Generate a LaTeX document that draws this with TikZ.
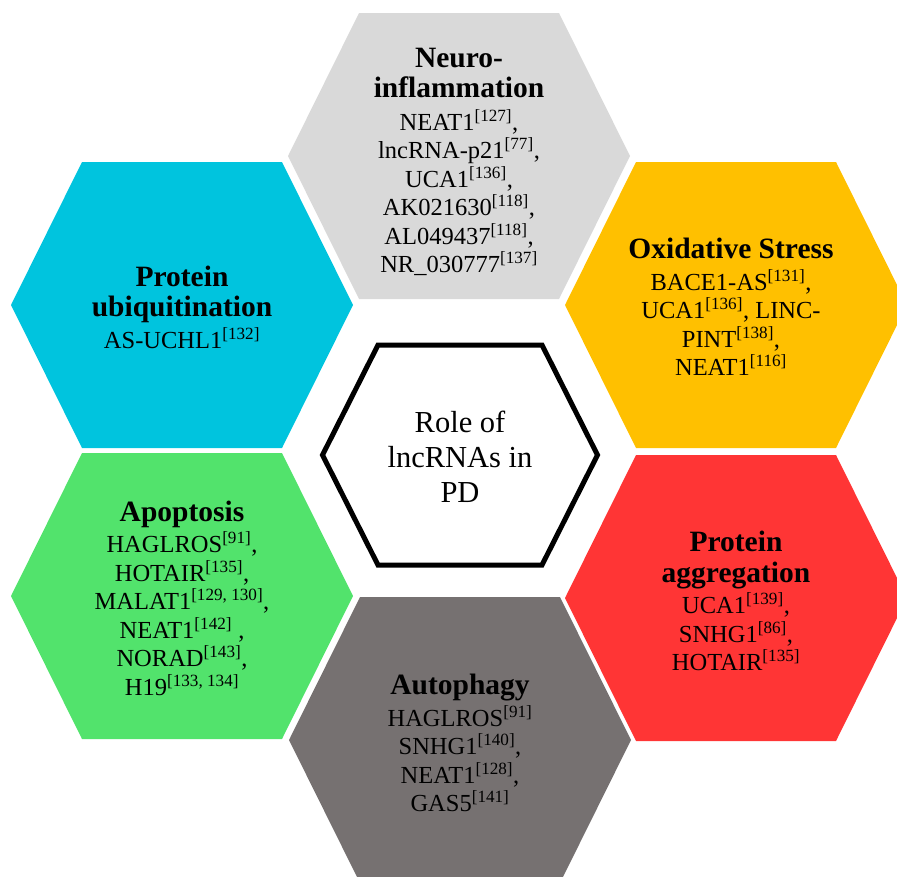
\documentclass[tikz,border=0pt]{standalone}
\usepackage{fontspec}
\setmainfont{Liberation Serif}
\definecolor{cgray}{HTML}{D9D9D9}
\definecolor{ccyan}{HTML}{00C4DE}
\definecolor{cyell}{HTML}{FFC000}
\definecolor{cgreen}{HTML}{52E36C}
\definecolor{cred}{HTML}{FF3535}
\definecolor{cdark}{HTML}{767171}
\newcommand\myhexpath[5]{(#1-#3,#2) -- (#1-#4,#2-#5) -- (#1+#4,#2-#5) -- (#1+#3,#2) -- (#1+#4,#2+#5) -- (#1-#4,#2+#5) -- cycle}
\newcommand\hd[1]{{\fontsize{29.5}{33}\selectfont\bfseries #1}}
\newcommand\rf[1]{\textsuperscript{[#1]}}
\tikzset{
  txt/.style={align=center, text=black, inner sep=0pt, font=\fontsize{24.5}{28.5}\selectfont},
  ctxt/.style={align=center, text=black, inner sep=0pt, font=\fontsize{30.5}{35}\selectfont},
}
\begin{document}
\begin{tikzpicture}[x=1pt,y=-1pt]
\useasboundingbox (0,0) rectangle (897,876);
\clip (0,0) rectangle (897,876);
% outer hexagons
\fill[cgray]  \myhexpath{459}{156}{171}{100}{143};
\fill[ccyan]  \myhexpath{182}{305}{171}{100}{143};
\fill[cyell]  \myhexpath{736}{305}{171}{100}{143};
\fill[cgreen] \myhexpath{182}{596}{171}{100}{143};
\fill[cred]   \myhexpath{736}{598}{171}{100}{143};
\fill[cdark]  \myhexpath{460}{740}{171}{100}{143};
% centre hexagon
\draw[line width=5pt, fill=white, line join=miter] \myhexpath{460}{455}{137.5}{82}{110};
% texts
\node[txt] (neuro) at (459,162) {\hd{Neuro-}\\[2pt]\hd{inflammation}\\[4pt]NEAT1\rf{127},\\lncRNA-p21\rf{77},\\UCA1\rf{136},\\AK021630\rf{118},\\AL049437\rf{118},\\NR\_030777\rf{137}};
\node[txt] (ubiq) at (182,307) {\hd{Protein}\\[2pt]\hd{ubiquitination}\\[3pt]AS-UCHL1\rf{132}};
\node[txt] (oxid) at (731,307) {\hd{Oxidative Stress}\\[3pt]BACE1-AS\rf{131},\\UCA1\rf{136}, LINC-\\PINT\rf{138},\\NEAT1\rf{116}};
\node[txt] (apop) at (182,598) {\hd{Apoptosis}\\[3pt]HAGLROS\rf{91},\\HOTAIR\rf{135},\\MALAT1\rf{129, 130},\\NEAT1\rf{142} ,\\NORAD\rf{143},\\H19\rf{133, 134}};
\node[txt] (aggr) at (736,601) {\hd{Protein}\\[2pt]\hd{aggregation}\\[3pt]UCA1\rf{139},\\SNHG1\rf{86},\\HOTAIR\rf{135}};
\node[txt] (auto) at (460,743) {\hd{Autophagy}\\[3pt]HAGLROS\rf{91}\\SNHG1\rf{140},\\NEAT1\rf{128},\\GAS5\rf{141}};
\node[ctxt] (centre) at (460,457) {Role of\\lncRNAs in\\PD};
\end{tikzpicture}
\end{document}
